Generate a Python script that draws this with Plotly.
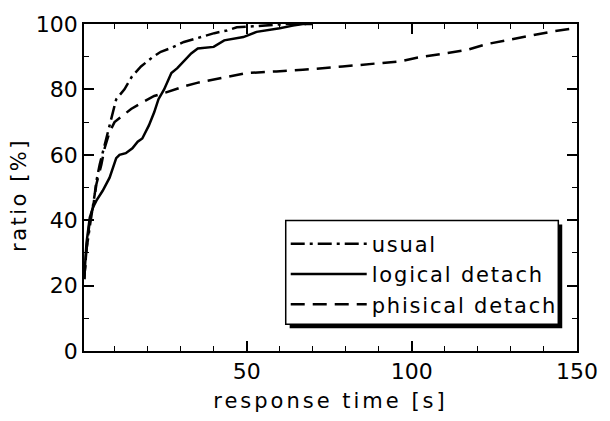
import plotly.graph_objects as go

# ---- data ----
usual_x = [0.8, 1.5, 2.5, 3, 4, 4.5, 5.5, 7, 8.5, 10.5, 13, 15.3, 18, 21.3, 24, 27.2, 31, 35.2, 40.2, 44, 47, 52, 56, 62, 68]
usual_y = [22, 31, 38, 41, 48, 52, 57, 63, 69, 77, 80, 84, 87, 89.7, 91.5, 92.7, 94.5, 95.7, 97.2, 98, 99, 99.3, 99.6, 100, 100]

logical_x = [0.8, 1.5, 2.5, 3.5, 4.5, 6.4, 8.5, 10.5, 11.5, 13.4, 15.4, 17, 18.4, 20.4, 22, 23.3, 25, 27.2, 29, 31, 33.2,
             35.2, 40, 43.2, 46, 49, 53, 57, 60, 64, 67, 70]
logical_y = [22, 33, 40.8, 44, 46, 49, 53, 59, 60, 60.5, 62, 64, 65, 69, 73, 77, 80, 85, 86.5, 88.5, 91,
             92.5, 93, 95, 95.5, 96, 97.6, 98.2, 98.7, 99.5, 100, 100]

physical_x = [0.8, 1.5, 2.5, 3.5, 4.5, 6, 7, 8.5, 10, 12.4, 15, 18.4, 22, 25.4, 31.3, 35, 40.2, 45, 50, 59, 67, 79,
              88.7, 96.6, 101.5, 109.5, 116.4, 122.4, 129.4, 136, 143, 149]
physical_y = [22, 31, 40, 44, 51, 57, 62, 67, 70, 72, 74, 76, 78, 79, 81, 82, 83, 84, 85, 85.5, 86, 87,
              88, 88.6, 89.7, 91, 92, 93.8, 95.2, 96.6, 97.8, 98.7]

series_names = ["usual", "logical detach", "phisical detach"]
x_title = "response time [s]"
y_title = "ratio [%]"

FONT = "DejaVu Sans"


def spaced(t, ls=1.5):
    return f'<span style="letter-spacing:{ls}px">{t}</span>'


def px_x(p):  # pixel -> paper x (plot area 84..585)
    return (p - 84) / 501


def px_y(p):  # pixel -> paper y (plot area 24..355)
    return (355 - p) / 331


fig = go.Figure()
fig.add_trace(go.Scatter(x=usual_x, y=usual_y, mode="lines", name=spaced(series_names[0], 1.8),
                         line=dict(color="black", width=2.5, dash="14px,5px,3px,5px")))
fig.add_trace(go.Scatter(x=logical_x, y=logical_y, mode="lines", name=spaced(series_names[1], 1.8),
                         line=dict(color="black", width=2.5)))
fig.add_trace(go.Scatter(x=physical_x, y=physical_y, mode="lines", name=spaced(series_names[2], 1.8),
                         line=dict(color="black", width=2.5, dash="14px,8px")))

axis_common = dict(
    showgrid=False, zeroline=False, showline=True, linecolor="black", linewidth=1.5,
    mirror="ticks", ticks="inside", ticklen=10, tickwidth=1.5, tickcolor="black",
    tickfont=dict(family=FONT, size=22, color="black"),
)

fig.update_xaxes(**axis_common, range=[0.75, 150], tick0=0, dtick=50,
                 minor=dict(dtick=10, ticks="inside", ticklen=5, tickcolor="black", tickwidth=1.2),
                 title=dict(text=spaced(x_title, 3), font=dict(family=FONT, size=21, color="black"), standoff=10))
fig.update_yaxes(**axis_common, range=[0, 100], tick0=0, dtick=20,
                 minor=dict(dtick=10, ticks="inside", ticklen=5, tickcolor="black", tickwidth=1.2))

# y-axis title placed as in the reference
fig.add_annotation(text=spaced(y_title, 2.5), xref="paper", yref="paper",
                   x=px_x(18), y=px_y(197), xanchor="center", yanchor="middle",
                   textangle=-90, showarrow=False, font=dict(family=FONT, size=21, color="black"))

# legend frame with drop shadow (legend itself is transparent and sits on top)
fig.add_shape(type="rect", xref="paper", yref="paper",
              x0=px_x(293), x1=px_x(570), y0=px_y(332), y1=px_y(227),
              fillcolor="black", line=dict(width=0), layer="above")
fig.add_shape(type="rect", xref="paper", yref="paper",
              x0=px_x(289), x1=px_x(566), y0=px_y(328), y1=px_y(223),
              fillcolor="white", line=dict(color="black", width=1.5), layer="above")

fig.update_layout(
    width=610, height=421,
    margin=dict(l=84, r=25, t=24, b=66),
    paper_bgcolor="white", plot_bgcolor="white",
    font=dict(family=FONT, color="black"),
    legend=dict(x=px_x(289), y=px_y(226), xanchor="left", yanchor="top",
                bgcolor="rgba(0,0,0,0)", borderwidth=0,
                font=dict(family=FONT, size=21, color="black"),
                itemwidth=76, tracegroupgap=0),
)

fig.write_html("out.html")
